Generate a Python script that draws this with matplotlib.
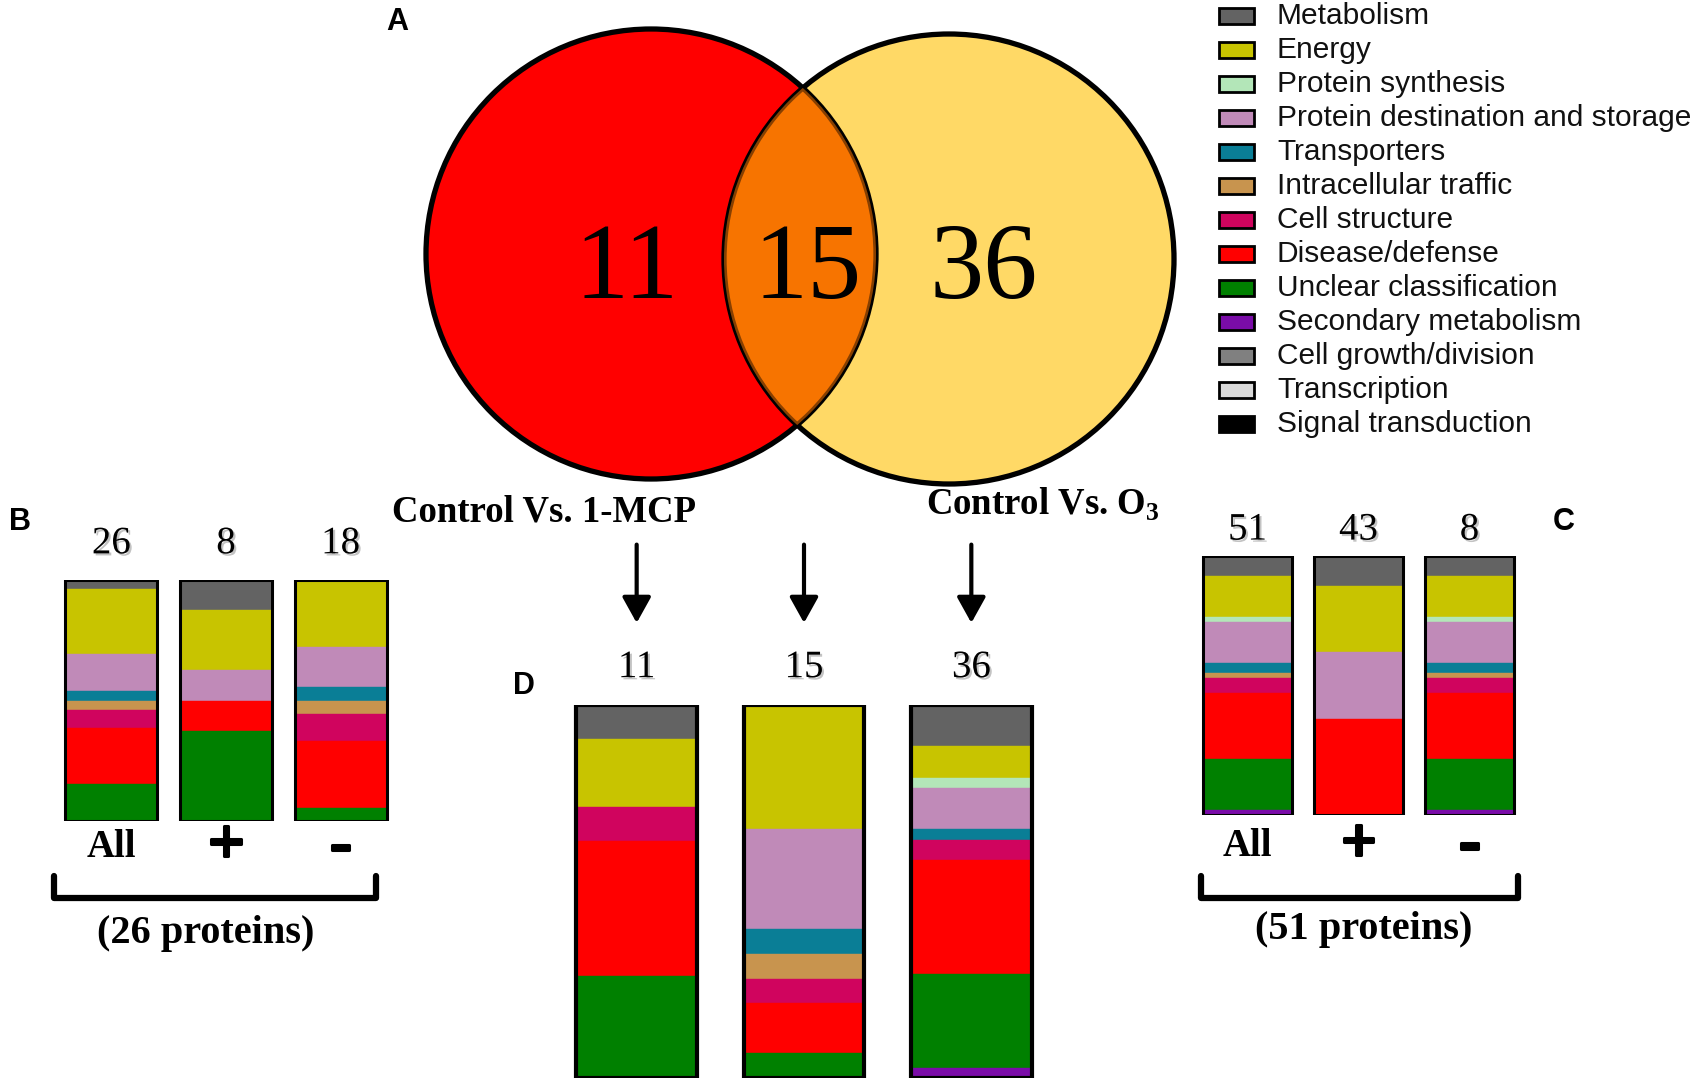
import numpy as np
import matplotlib.pyplot as plt
import matplotlib.patheffects as pe
from matplotlib.patches import Circle, Rectangle

# functional categories and their colours
categories = ['Metabolism', 'Energy', 'Protein synthesis',
              'Protein destination and storage', 'Transporters',
              'Intracellular traffic', 'Cell structure', 'Disease/defense',
              'Unclear classification', 'Secondary metabolism',
              'Cell growth/division', 'Transcription', 'Signal transduction']
cat_colors = ['#636363', '#C8C400', '#B3E6B8', '#C08AB8', '#0A7E96',
              '#C8944E', '#D0045E', '#FF0000', '#008000', '#7A0CA8',
              '#808080', '#D9D9D9', '#000000']

# Venn counts (only 1-MCP, common, only O3)
venn_counts = [11, 15, 36]
group_labels = ['Control Vs. 1-MCP', r'Control Vs. O$_\mathbf{3}$']

# protein counts per category, same order as categories
b_all = [1, 7, 0, 4, 1, 1, 2, 6, 4, 0, 0, 0, 0]
b_up = [1, 2, 0, 1, 0, 0, 0, 1, 3, 0, 0, 0, 0]
b_down = [0, 5, 0, 3, 1, 1, 2, 5, 1, 0, 0, 0, 0]
b_totals = [26, 8, 18]

c_all = [4, 8, 1, 8, 2, 1, 3, 13, 10, 1, 0, 0, 0]
c_up = [5, 11, 0, 11, 0, 0, 0, 16, 0, 0, 0, 0, 0]
c_down = [4, 8, 1, 8, 2, 1, 3, 13, 10, 1, 0, 0, 0]
c_totals = [51, 43, 8]

d_mcp = [1, 2, 0, 0, 0, 0, 1, 4, 3, 0, 0, 0, 0]
d_common = [0, 5, 0, 4, 1, 1, 1, 2, 1, 0, 0, 0, 0]
d_o3 = [4, 3, 1, 4, 1, 0, 2, 11, 9, 1, 0, 0, 0]

bar_labels = ['All', '+', '-']
protein_labels = ['(26 proteins)', '(51 proteins)']

W, H = 1700, 1087
fig = plt.figure(figsize=(W / 100, H / 100), dpi=100)
plt.rcParams['mathtext.fontset'] = 'custom'
plt.rcParams['mathtext.bf'] = 'Liberation Serif:bold'
plt.rcParams['mathtext.rm'] = 'Liberation Serif'

# overlay axes in pixel coordinates for venn, legend and annotations
ov = fig.add_axes([0, 0, 1, 1])
ov.set_xlim(0, W)
ov.set_ylim(H, 0)
ov.axis('off')

serif = 'Liberation Serif'
sans = 'Liberation Sans'
shadow = [pe.SimplePatchShadow(offset=(1.5, -1.5), shadow_rgbFace='#888888', alpha=0.5), pe.Normal()]
thick = [pe.withStroke(linewidth=2.2, foreground='black')]


def px_axes(left, right, top, bottom):
    return fig.add_axes([left / W, (H - bottom) / H, (right - left) / W, (bottom - top) / H])


def draw_stack(ax, bars, totals, width, lbl_y, lw=2.2, below=None, below_y=None):
    for i, counts in enumerate(bars):
        fr = np.array(counts, dtype=float) / sum(counts)
        top = 1.0
        for f, col in zip(fr, cat_colors):
            if f == 0:
                continue
            ax.bar(i, f, bottom=top - f, width=width, color=col, edgecolor=col, linewidth=0.3)
            top -= f
        ax.bar(i, 1, width=width, fill=False, edgecolor='black', linewidth=lw)
        ax.text(i, lbl_y, str(totals[i]), ha='center', va='center', fontsize=28,
                family=serif, path_effects=shadow, clip_on=False)
        if below is not None:
            if below[i] == 'All':
                ax.text(i, below_y, below[i], ha='center', va='center', fontsize=28,
                        family=serif, fontweight='bold', clip_on=False)
            else:
                ax.text(i, below_y, below[i], ha='center', va='center', fontsize=46,
                        family=serif, fontweight='bold', clip_on=False, path_effects=thick)
    ax.set_xlim(-0.5, 2.5)
    ax.set_ylim(0, 1)
    ax.axis('off')


# panel B
axb = px_axes(54, 398, 580, 821)
draw_stack(axb, [b_all, b_up, b_down], b_totals, 0.8, 1.15, below=bar_labels, below_y=-0.11)

# panel C
axc = px_axes(1192, 1525, 556, 815)
draw_stack(axc, [c_all, c_up, c_down], c_totals, 0.8, 1.10, below=bar_labels, below_y=-0.12)

# panel D
axd = px_axes(553, 1055, 705, 1078)
draw_stack(axd, [d_mcp, d_common, d_o3], venn_counts, 0.72, 1.10, lw=3)
for i in range(3):
    axd.annotate('', xy=(i, 1.22), xytext=(i, 1.43), xycoords='data',
                 arrowprops=dict(arrowstyle='-|>,head_length=0.45,head_width=0.25',
                                 mutation_scale=35, lw=3, color='black',
                                 shrinkA=0, shrinkB=0), annotation_clip=False)

# Venn diagram
c1 = (651, 254)
c2 = (949, 259)
r = 225
ov.add_patch(Circle(c1, r, fc='#FF0000', ec='none'))
ov.add_patch(Circle(c2, r, fc='#FFD966', ec='none'))
lens = Circle(c2, r, fc='#F77400', ec='none')
ov.add_patch(lens)
lens.set_clip_path(Circle(c1, r, transform=ov.transData))
ov.add_patch(Circle(c1, r, fill=False, ec='black', lw=3.8))
ov.add_patch(Circle(c2, r, fill=False, ec='black', lw=3.8))
lens2 = Circle(c2, r, fc='#F77400', ec='none', alpha=0.55)
ov.add_patch(lens2)
lens2.set_clip_path(Circle(c1, r, transform=ov.transData))

for x, n in zip([627, 808, 984], venn_counts):
    ov.text(x, 272, str(n), ha='center', va='center', fontsize=78, family=serif)

ov.text(544, 512, group_labels[0], ha='center', va='center', fontsize=26.5,
        family=serif, fontweight='bold')
ov.text(1043, 504, group_labels[1], ha='center', va='center', fontsize=26.5,
        family=serif, fontweight='bold')


# brackets under B and C
def bracket(x0, x1, y0, y1):
    ov.plot([x0, x0, x1, x1], [y0, y1, y1, y0], color='black', lw=4.5,
            solid_joinstyle='round', solid_capstyle='round')


bracket(54, 376, 876, 898)
bracket(1201, 1518, 876, 898)
ov.text(206, 934, protein_labels[0], ha='center', va='center', fontsize=29,
        family=serif, fontweight='bold')
ov.text(1364, 930, protein_labels[1], ha='center', va='center', fontsize=29,
        family=serif, fontweight='bold')

# panel letters
for s, x, y in [('A', 397, 22), ('B', 20, 522), ('C', 1564, 522), ('D', 524, 686)]:
    ov.text(x, y, s, ha='center', va='center', fontsize=22, family=sans, fontweight='bold')

# legend
for i, (name, col) in enumerate(zip(categories, cat_colors)):
    y = 16 + 34 * i
    ov.add_patch(Rectangle((1219, y - 8), 35, 16, fc=col, ec='black', lw=2))
    ov.text(1277, y, name, ha='left', va='center', fontsize=21.5, family=sans, color='#111111')

fig.savefig('out.png', dpi=100)
